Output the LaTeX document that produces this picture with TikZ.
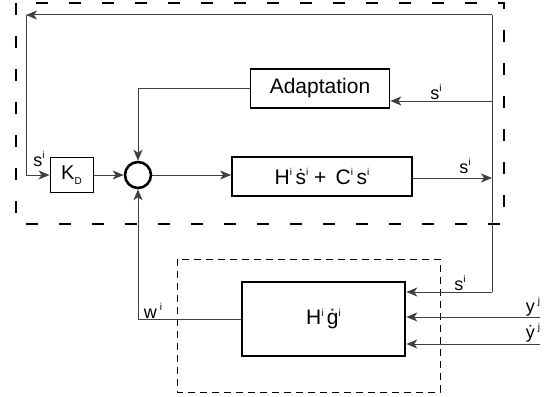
\documentclass[tikz,border=0pt]{standalone}
\usepackage{fontspec}
\setmainfont{Liberation Sans}
\usetikzlibrary{arrows.meta}
\newcommand{\ssup}[1]{\raisebox{0.8ex}{\fontsize{10}{10}\selectfont #1}}
\begin{document}
\begin{tikzpicture}[x=1pt,y=-1pt,
  line width=0.9pt,
  conn/.style={draw=black!75, line width=1pt},
  arr/.style={conn, -{Stealth[length=11pt,width=9pt,inset=3pt]}},
  thinbox/.style={draw, line width=0.9pt, minimum width=43pt, minimum height=35pt, inner sep=0pt},
  midbox/.style={draw, line width=1.7pt, inner sep=0pt, font=\fontsize{21}{24}\selectfont},
  bigbox/.style={draw, line width=2.6pt, inner sep=0pt, font=\fontsize{21}{24}\selectfont},
  lab/.style={font=\fontsize{18}{20}\selectfont, inner sep=0pt},
  outerdash/.style={draw, line width=2.8pt, dash pattern=on 12pt off 21pt},
  innerdash/.style={draw, line width=1pt, dash pattern=on 7pt off 5pt}]
\useasboundingbox (0,0) rectangle (548,396);
% dashed frames
\draw[outerdash] (16,3) rectangle (504,224);
\draw[innerdash] (177,259) rectangle (440,392);
% blocks
\node[thinbox] (kd) at (71.5,175) {\fontsize{20}{22}\selectfont K\raisebox{-0.5ex}{\fontsize{10}{10}\selectfont D}};
\node[draw, circle, line width=2.6pt, minimum size=26pt, inner sep=0pt] (sum) at (138,175) {};
\node[midbox, minimum width=139pt, minimum height=39pt] (adapt) at (320,88.5) {Adaptation};
\node[midbox, minimum width=180pt, minimum height=39pt] (hs) at (322,176.5) {H\ssup{i}\,ṡ\ssup{i} + \,C\ssup{i}\,s\ssup{i}};
\node[bigbox, minimum width=163pt, minimum height=74pt] (hg) at (323.5,319) {H\ssup{i}\,ġ\ssup{i}};
% coordinates
\coordinate (TR) at (492,15);
\coordinate (TL) at (26,15);
\coordinate (R1) at (492,101);
\coordinate (R2) at (492,178);
\coordinate (R3) at (492,292);
\coordinate (Y1) at (540,317);
\coordinate (Y2) at (540,344);
% connectors
\draw[arr] (TR) -- (TL);
\draw[arr] (TL) |- (kd.west);
\draw[arr] (kd.east) -- (sum.west);
\draw[arr] (adapt.west) -| (sum.north);
\draw[arr] (sum.east) -- (sum.east -| hs.west);
\draw[arr] (hs.east |- R2) -- (R2);
\draw[arr] (R1) -- (R1 -| adapt.east);
\draw[conn] (TR) -- (R3);
\draw[arr] (R3) -- (R3 -| hg.east);
\draw[arr] (Y1) -- (Y1 -| hg.east);
\draw[arr] (Y2) -- (Y2 -| hg.east);
\draw[arr] (hg.west) -| (sum.south);
% labels
\node[lab] (l1) at (39,159) {s\ssup{i}};
\node[lab] (l2) at (436,92) {s\ssup{i}};
\node[lab] (l3) at (465,166) {s\ssup{i}};
\node[lab] (l4) at (460,283) {s\ssup{i}};
\node[lab] (l5) at (533,307) {y\,\ssup{j}};
\node[lab] (l6) at (533,333) {ẏ\,\ssup{j}};
\node[lab] (l7) at (153,311) {w\,\ssup{i}};
\end{tikzpicture}
\end{document}
